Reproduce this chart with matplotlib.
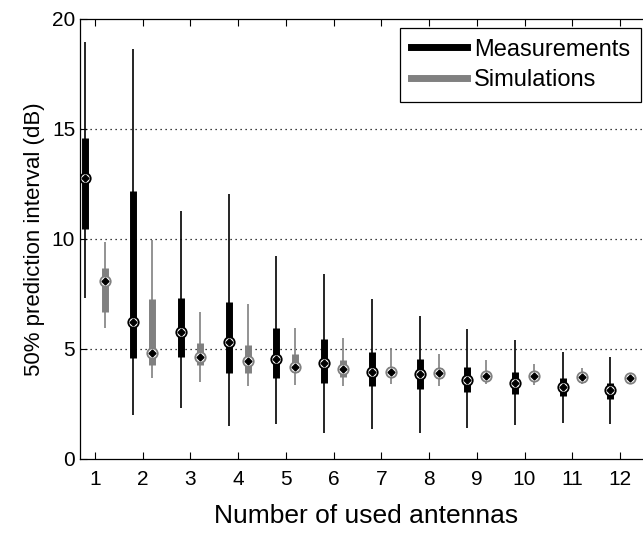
import matplotlib
matplotlib.use("Agg")
import matplotlib.pyplot as plt
from matplotlib.lines import Line2D

plt.rcParams["font.family"] = ["Liberation Sans", "DejaVu Sans"]

# -----------------------------
# Data
# -----------------------------
antennas = [1, 2, 3, 4, 5, 6, 7, 8, 9, 10, 11, 12]

meas_low = [7.3, 2.0, 2.3, 1.5, 1.6, 1.2, 1.35, 1.2, 1.4, 1.55, 1.65, 1.6]
meas_q1 = [10.45, 4.58, 4.65, 3.9, 3.67, 3.44, 3.32, 3.18, 3.06, 2.94, 2.88, 2.73]
meas_med = [12.76, 6.24, 5.79, 5.3, 4.55, 4.35, 3.97, 3.85, 3.59, 3.47, 3.29, 3.14]
meas_q3 = [14.6, 12.2, 7.33, 7.15, 5.94, 5.44, 4.88, 4.55, 4.17, 3.97, 3.67, 3.44]
meas_high = [18.97, 18.64, 11.27, 12.03, 9.23, 8.41, 7.27, 6.52, 5.9, 5.41, 4.88, 4.62]

sim_low = [5.97, 3.7, 3.5, 3.33, 3.36, 3.32, 3.39, 3.32, 3.41, 3.36, 3.39, 3.44]
sim_q1 = [6.67, 4.27, 4.27, 3.9, 3.97, 3.74, 3.77, 3.67, 3.59, 3.59, 3.52, 3.49]
sim_med = [8.09, 4.8, 4.65, 4.47, 4.17, 4.09, 3.97, 3.89, 3.79, 3.79, 3.71, 3.67]
sim_q3 = [8.67, 7.27, 5.26, 5.18, 4.76, 4.5, 4.2, 4.12, 3.97, 3.97, 3.88, 3.8]
sim_high = [9.85, 9.95, 6.7, 7.03, 5.94, 5.52, 5.06, 4.76, 4.5, 4.3, 4.12, 3.92]

offset = 0.2
meas_color = "black"
sim_color = "#808080"

# -----------------------------
# Plot
# -----------------------------
fig = plt.figure(figsize=(6.43, 5.34), dpi=100)
ax = fig.add_axes([80 / 643, 75 / 534, 572 / 643, 440 / 534])

xm = [a - offset for a in antennas]
xs = [a + offset for a in antennas]

for x, lo, q1, med, q3, hi, col in [
    (xm, meas_low, meas_q1, meas_med, meas_q3, meas_high, meas_color),
    (xs, sim_low, sim_q1, sim_med, sim_q3, sim_high, sim_color),
]:
    ax.vlines(x, lo, hi, color=col, linewidth=1.2, zorder=2)
    ax.vlines(x, q1, q3, color=col, linewidth=5, zorder=3, capstyle="butt")
    ax.plot(x, med, linestyle="none", marker="o", markersize=7.5,
            markerfacecolor="white", markeredgecolor=col,
            markeredgewidth=1.3, zorder=4)
    ax.plot(x, med, linestyle="none", marker="D", markersize=3.5,
            color="black", zorder=5)

# -----------------------------
# Formatting
# -----------------------------
ax.set_xlim(0.686, 12.67)
ax.set_ylim(0, 20)
ax.set_xticks(antennas)
ax.set_yticks([0, 5, 10, 15, 20])
ax.tick_params(axis="both", direction="in", top=True, right=False,
               labelsize=15, length=5)
ax.tick_params(axis="x", pad=8)
ax.tick_params(axis="y", pad=3.5)
ax.spines["right"].set_visible(False)
for s in ["left", "bottom", "top"]:
    ax.spines[s].set_linewidth(0.9)

for yv in [5, 10, 15]:
    ax.axhline(yv, color="black", linestyle=(0, (1, 3)), linewidth=0.9, zorder=1)

ax.set_xlabel("Number of used antennas", fontsize=19, labelpad=11)
ax.set_ylabel("50% prediction interval (dB)", fontsize=16, labelpad=5)

handles = [
    Line2D([], [], color=meas_color, linewidth=5),
    Line2D([], [], color=sim_color, linewidth=5),
]
leg = fig.legend(handles, ["Measurements", "Simulations"],
                 loc="upper right", bbox_to_anchor=(641 / 643, 1 - 28 / 534),
                 fontsize=17, fancybox=False, framealpha=1,
                 edgecolor="black", handlelength=2.4, handletextpad=0.3,
                 labelspacing=0.35, borderpad=0.45, borderaxespad=0)
leg.get_frame().set_linewidth(0.9)

fig.savefig("out.png", dpi=100)
